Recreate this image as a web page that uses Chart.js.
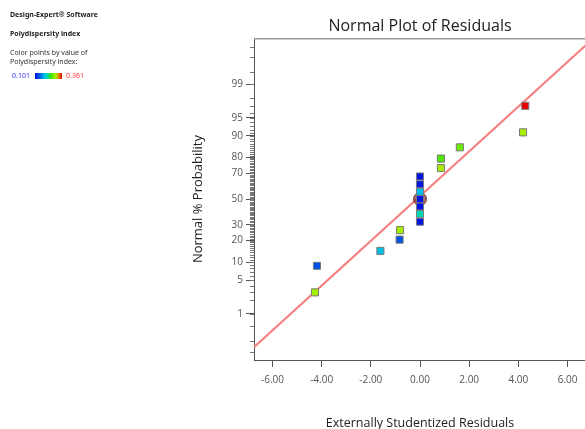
<!DOCTYPE html>
<html>
<head>
<meta charset="utf-8">
<title>Normal Plot of Residuals</title>
<script src="https://cdn.jsdelivr.net/npm/chart.js@4.4.0/dist/chart.umd.min.js"></script>
<style>
  html, body { margin: 0; padding: 0; background: #fff; overflow: hidden; }
  #wrap { position: relative; width: 600px; height: 431px; }
  #info { position: absolute; left: 10px; top: 0; font-family: "Noto Sans", sans-serif; font-size: 7px; color: #333; line-height: 8.5px; }
  #info .b { font-weight: bold; color: #222; }
  #info .l1 { position: absolute; top: 11px; white-space: nowrap; }
  #info .l2 { position: absolute; top: 30px; white-space: nowrap; }
  #info .l3 { position: absolute; top: 49px; white-space: nowrap; }
  #info .row { position: absolute; top: 72px; white-space: nowrap; }
  #info .lo { color: #3030ff; position: absolute; left: 2px; top: 0; }
  #info .hi { color: #ff3030; position: absolute; left: 56px; top: 0; }
  #info .bar { position: absolute; left: 25px; top: 1px; width: 27px; height: 6px; }
</style>
</head>
<body>
<div id="wrap">
  <canvas id="chart" width="600" height="431"></canvas>
  <div id="info">
    <div class="l1 b">Design-Expert® Software</div>
    <div class="l2 b">Polydispersity index</div>
    <div class="l3">Color points by value of<br>Polydispersity index:</div>
    <div class="row"><span class="lo">0.101</span><span class="bar" id="bar"></span><span class="hi">0.361</span></div>
  </div>
</div>
<script>
// sorted residuals and their normal probability positions
const residuals = [-4.27, -4.19, -1.61, -0.83, -0.81, 0.00, 0.00, 0.00, 0.00, 0.00, 0.00, 0.00, 0.85, 0.85, 1.62, 4.19, 4.28];
const probabilities = [2.94, 8.82, 14.71, 20.59, 26.47, 32.35, 38.24, 44.12, 50.00, 55.88, 61.76, 67.65, 73.53, 79.41, 85.29, 91.18, 97.06];
const polydispersity = [0.298, 0.140, 0.192, 0.140, 0.296, 0.104, 0.218, 0.104, 0.104, 0.190, 0.104, 0.104, 0.300, 0.262, 0.275, 0.299, 0.361];
const pdiRange = [0.101, 0.361];

// reference line and the circled point
const refLineX = [-6.75, 6.75];
const refLineP = [0.135, 99.91];
const markerX = [0];
const markerP = [50];

const xTicks = [-6, -4, -2, 0, 2, 4, 6];
const yTickPercents = [1, 5, 10, 20, 30, 50, 70, 80, 90, 95, 99];
const yMinorPercents = [0.1, 0.2, 0.5, 1, 2, 3, 4, 5, 6, 7, 8, 9, 10, 11, 12, 13, 14, 15, 16, 17, 18, 19, 20, 21, 22, 23, 24, 25, 26, 27, 28, 29, 30, 31, 32, 33, 34, 35, 36, 37, 38, 39, 40, 41, 42, 43, 44, 45, 46, 47, 48, 49, 50, 51, 52, 53, 54, 55, 56, 57, 58, 59, 60, 61, 62, 63, 64, 65, 66, 67, 68, 69, 70, 71, 72, 73, 74, 75, 76, 77, 78, 79, 80, 81, 82, 83, 84, 85, 86, 87, 88, 89, 90, 91, 92, 93, 94, 95, 96, 97, 98, 99, 99.5, 99.8, 99.9];

// inverse normal cdf (probit), used as the y scale transform
function probit(p) {
  const a = [-39.69683028665376, 220.9460984245205, -275.9285104469687, 138.3577518672690, -30.66479806614716, 2.506628277459239];
  const b = [-54.47609879822406, 161.5858368580409, -155.6989798598866, 66.80131188771972, -13.28068155288572];
  const c = [-0.007784894002430293, -0.3223964580411365, -2.400758277161838, -2.549732539343734, 4.374664141464968, 2.938163982698783];
  const d = [0.007784695709041462, 0.3224671290700398, 2.445134137142996, 3.754408661907416];
  const pl = 0.02425;
  let q, r;
  if (p < pl) {
    q = Math.sqrt(-2 * Math.log(p));
    return (((((c[0]*q+c[1])*q+c[2])*q+c[3])*q+c[4])*q+c[5]) / ((((d[0]*q+d[1])*q+d[2])*q+d[3])*q+1);
  }
  if (p > 1 - pl) {
    q = Math.sqrt(-2 * Math.log(1 - p));
    return -(((((c[0]*q+c[1])*q+c[2])*q+c[3])*q+c[4])*q+c[5]) / ((((d[0]*q+d[1])*q+d[2])*q+d[3])*q+1);
  }
  q = p - 0.5; r = q * q;
  return (((((a[0]*r+a[1])*r+a[2])*r+a[3])*r+a[4])*r+a[5])*q / (((((b[0]*r+b[1])*r+b[2])*r+b[3])*r+b[4])*r+1);
}
const z = pct => probit(pct / 100);

// colour map used for the points and the legend bar
const cmap = [
  [0.00, [0, 16, 224]],
  [0.15, [0, 80, 228]],
  [0.35, [0, 192, 232]],
  [0.45, [0, 216, 176]],
  [0.60, [64, 232, 0]],
  [0.76, [168, 240, 0]],
  [0.88, [230, 140, 0]],
  [1.00, [232, 0, 0]]
];
function colorFor(v) {
  let t = (v - pdiRange[0]) / (pdiRange[1] - pdiRange[0]);
  t = Math.max(0, Math.min(1, t));
  for (let i = 1; i < cmap.length; i++) {
    if (t <= cmap[i][0]) {
      const [t0, c0] = cmap[i - 1], [t1, c1] = cmap[i];
      const f = (t - t0) / (t1 - t0);
      const c = c0.map((x, k) => Math.round(x + (c1[k] - x) * f));
      return 'rgb(' + c.join(',') + ')';
    }
  }
  return 'rgb(232,0,0)';
}
document.getElementById('bar').style.background =
  'linear-gradient(to right,' + cmap.map(s => 'rgb(' + s[1].join(',') + ') ' + (s[0] * 100) + '%').join(',') + ')';

// top/right frame and minor ticks on the probability axis
const framePlugin = {
  id: 'frame',
  afterDraw(chart) {
    const { ctx, chartArea } = chart;
    const ys = chart.scales.y;
    ctx.save();
    ctx.strokeStyle = '#999';
    ctx.lineWidth = 1.5;
    ctx.beginPath();
    ctx.moveTo(chartArea.left, chartArea.top + 0.5);
    ctx.lineTo(chartArea.right, chartArea.top + 0.5);
    ctx.lineTo(chartArea.right, chartArea.bottom);
    ctx.stroke();
    ctx.strokeStyle = '#777';
    ctx.lineWidth = 1;
    ctx.beginPath();
    yMinorPercents.forEach(p => {
      const py = Math.round(ys.getPixelForValue(z(p))) + 0.5;
      ctx.moveTo(chartArea.left - 4, py);
      ctx.lineTo(chartArea.left, py);
    });
    ctx.stroke();
    ctx.restore();
  }
};

Chart.defaults.font.family = '"Open Sans", sans-serif';

const ctx = document.getElementById('chart').getContext('2d');
new Chart(ctx, {
  type: 'scatter',
  data: {
    datasets: [
      {
        label: 'Residuals',
        data: residuals.map((x, i) => ({ x: x, y: z(probabilities[i]) })),
        pointStyle: 'rect',
        pointRadius: 5,
        pointHoverRadius: 5,
        backgroundColor: polydispersity.map(colorFor),
        borderColor: '#7a7a7a',
        borderWidth: 1,
        order: 1
      },
      {
        label: 'Marker',
        data: markerX.map((x, i) => ({ x: x, y: z(markerP[i]) })),
        pointStyle: 'circle',
        pointRadius: 6.5,
        backgroundColor: 'rgba(115, 30, 30, 0.65)',
        borderColor: 'rgba(95, 25, 25, 0.75)',
        borderWidth: 1,
        order: 2
      },
      {
        type: 'line',
        label: 'Reference',
        data: refLineX.map((x, i) => ({ x: x, y: z(refLineP[i]) })),
        borderColor: 'rgba(245, 120, 120, 0.95)',
        borderWidth: 2,
        pointRadius: 0,
        fill: false,
        order: 3
      }
    ]
  },
  options: {
    responsive: false,
    animation: false,
    layout: { padding: { left: 190, right: 14, top: 0, bottom: 0 } },
    plugins: {
      legend: { display: false },
      tooltip: { enabled: false },
      title: {
        display: true,
        text: 'Normal Plot of Residuals',
        fullSize: false,
        color: '#222',
        font: { size: 16, weight: 'normal' },
        padding: { top: 17, bottom: 2 }
      }
    },
    scales: {
      x: {
        type: 'linear',
        min: -6.75,
        max: 6.75,
        afterBuildTicks: s => { s.ticks = xTicks.map(v => ({ value: v })); },
        afterFit: s => { s.height = 71; },
        ticks: { callback: v => v.toFixed(2), color: '#555', font: { size: 10 }, padding: 7, maxRotation: 0 },
        grid: { drawOnChartArea: false, tickLength: 7, tickColor: '#555' },
        border: { color: '#555' },
        title: { display: true, text: 'Externally Studentized Residuals', color: '#222', font: { size: 12.5 }, padding: 0 }
      },
      y: {
        type: 'linear',
        min: -3.26,
        max: 3.26,
        afterBuildTicks: s => { s.ticks = yTickPercents.map(p => ({ value: z(p) })); },
        afterFit: s => { s.width = 64; },
        ticks: { callback: (v, i) => String(yTickPercents[i]), color: '#555', font: { size: 10 }, padding: 3 },
        grid: { drawOnChartArea: false, tickLength: 8, tickColor: '#555' },
        border: { color: '#555' },
        title: { display: true, text: 'Normal % Probability', color: '#222', font: { size: 13 }, padding: 0 }
      }
    }
  },
  plugins: [framePlugin]
});
</script>
</body>
</html>
